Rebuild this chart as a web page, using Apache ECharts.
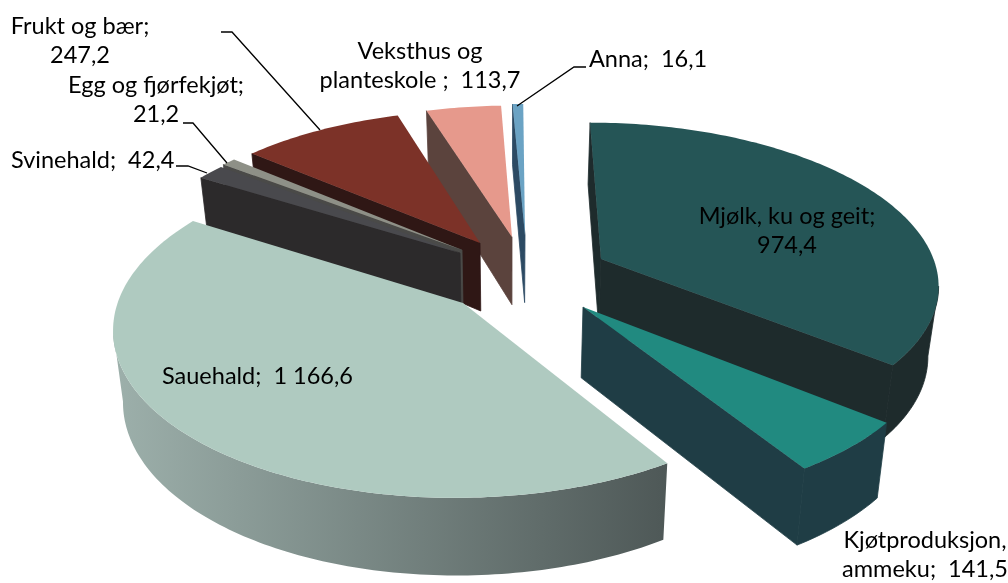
<!DOCTYPE html>
<html><head><meta charset="utf-8">
<style>html,body{margin:0;padding:0;background:#fff}#c{width:1008px;height:583px}</style>
<script src="https://cdn.jsdelivr.net/npm/echarts@6/dist/echarts.min.js"></script>
</head><body><div id="c"></div>
<script>
// --- data ---
const categories = ['Mjølk, ku og geit','Kjøtproduksjon,\nammeku','Sauehald','Svinehald','Egg og fjørfekjøt','Frukt og bær','Veksthus og\nplanteskole ','Anna'];
const values = [974.4,141.5,1166.6,42.4,21.2,247.2,113.7,16.1];
const valueText = ['974,4','141,5','1 166,6','42,4','21,2','247,2','113,7','16,1'];
const separators = [';\n',';  ',';  ',';  ',';\n',';\n',';  ',';  '];
// --- styles ---
const topColors = ['#255556','#218a80','#afcac0','#49494d','#8e9087','#7c3228','#e6998c','#6ba3c4'];
const cutColors = ['#1e2b2c','#1f3d45','#9aa9a5','#2c2a2b','#4a4a48','#2f1715','#5b433d','#2c4a63'];
const rimColors = [['#1e2b2c','#1e2b2c'],['#1f3d45','#1f3d45'],['#9db0ab','#4e5857'],['#2c2a2b','#2c2a2b'],['#4a4a48','#4a4a48'],['#2f1715','#2f1715'],['#5b433d','#5b433d'],['#2c4a63','#2c4a63']];
const drawOrder = [5,7,6,4,3,2,1,0];
// --- layout (screen position of each exploded wedge's tip, labels, leaders) ---
const tips = [[601,259],[583,307],[463,303],[460,253],[462,250],[480,243],[512,237],[525,235]];
const labelAt = [[787,231,'center'],[925,555,'center'],[162,376,'left'],[11,160,'left'],[156,100,'center'],[80,41,'center'],[420,66,'center'],[589,59,'left']];
const leaders = [null,null,null,[[176,166],[188,166],[207,173]],[[183,123],[193,123],[227,163]],[[221,32],[232,32],[320,130]],null,[[586,67],[574,67],[517,106]]];
const VP = {x:510,y:288,R:341,Rt:163,k:0.14,h0:70,h1:7,shrink:0.025};
const total = values.reduce((a,b)=>a+b,0);

function project(x,v){const s=1/(1-VP.k*v);return [VP.x+x*s,VP.y+VP.Rt*v*s];}
function lower(p,x,v){return [VP.x+(p[0]-VP.x)*(1-VP.shrink),p[1]+VP.h0+VP.h1*v];}
function tipPlane(t){const dy=t[1]-VP.y;const v=dy/(VP.Rt+VP.k*dy);const s=1/(1-VP.k*v);return {x:(t[0]-VP.x)/s,v:v};}

function renderItem(params,api){
  const i=params.dataIndex, val=api.value(0);
  let before=0; for(let j=0;j<i;j++) before+=values[j];
  const a0=before/total*2*Math.PI, a1=(before+val)/total*2*Math.PI;
  const c=tipPlane(tips[i]);
  const pt=(a)=>{const x=c.x+VP.R*Math.sin(a),v=c.v-Math.cos(a);const p=project(x,v);return {p,b:lower(p,x,v)};};
  const apex=(()=>{const p=project(c.x,c.v);return {p,b:lower(p,c.x,c.v)};})();
  const n=Math.max(2,Math.ceil((a1-a0)/(Math.PI/180)));
  const rim=[];for(let j=0;j<=n;j++) rim.push(pt(a0+(a1-a0)*j/n));
  const mid=rim[Math.floor(n/2)].p;
  const z=drawOrder[i]*10;
  const kids=[];
  const poly=(points,fill,z2,stroke)=>kids.push({type:'polygon',shape:{points},style:{fill,stroke:stroke||null,lineWidth:stroke?0.8:0},z2,silent:true});
  function face(r,z2){
    const d=[r.p[0]-apex.p[0],r.p[1]-apex.p[1]],m=[mid[0]-apex.p[0],mid[1]-apex.p[1]];
    if(Math.sign(d[0]) !== Math.sign(d[0]*m[1]-d[1]*m[0]))
      poly([apex.p,r.p,r.b,apex.b],cutColors[i],z2,cutColors[i]);
  }
  face(rim[0],z+1); face(rim[n],z+1);
  const vis=[];for(let j=0;j<n;j++) if(rim[j+1].p[0]<rim[j].p[0]){ if(!vis.length) vis.push(rim[j]); vis.push(rim[j+1]); }
  if(vis.length>1){
    const same=rimColors[i][0]===rimColors[i][1];
    poly(vis.map(r=>r.p).concat(vis.map(r=>r.b).reverse()),
      same?rimColors[i][0]:new echarts.graphic.LinearGradient(1,0,0,0,[{offset:0,color:rimColors[i][1]},{offset:1,color:rimColors[i][0]}]),
      z+2,same?rimColors[i][0]:null);
  }
  poly([apex.p].concat(rim.map(r=>r.p)),topColors[i],z+3,null);
  if(leaders[i]) kids.push({type:'polyline',shape:{points:leaders[i]},style:{stroke:'#000',lineWidth:1.3,fill:null},z2:200,silent:true});
  const L=labelAt[i];
  kids.push({type:'text',x:L[0],y:L[1],z2:300,silent:true,style:{
    text:categories[i]+separators[i]+valueText[i],
    x:0,y:0,align:L[2],verticalAlign:'middle',fill:'#000',font:'23.5px Lato',lineHeight:29}});
  return {type:'group',children:kids};
}
const chart=echarts.init(document.getElementById('c'),null,{renderer:'canvas'});
chart.setOption({animation:false,backgroundColor:'#fff',series:[{type:'custom',coordinateSystem:'none',silent:true,clip:false,data:values.map(v=>[v]),renderItem}]});
</script></body></html>
